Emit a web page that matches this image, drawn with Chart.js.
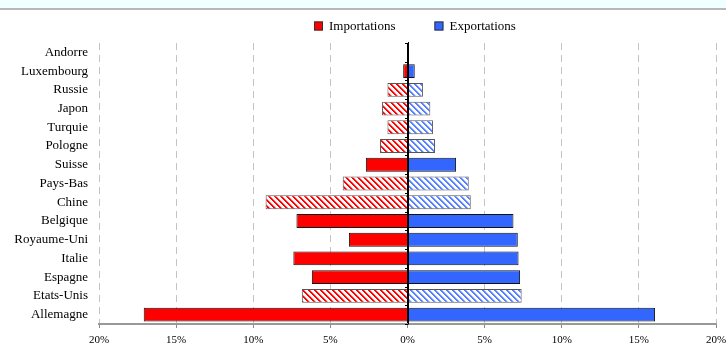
<!DOCTYPE html>
<html>
<head>
<meta charset="utf-8">
<script src="https://cdn.jsdelivr.net/npm/chart.js@4.4.1/dist/chart.umd.min.js"></script>
<style>
  html, body { margin: 0; padding: 0; background: #fff; }
  #wrap { position: relative; width: 726px; height: 345px; }
  #band { position: absolute; left: 0; top: 0; width: 726px; height: 8px; background: #f0ffff; border-bottom: 2px solid #b8b8b8; }
  #chart { position: absolute; left: 0; top: 0; }
</style>
</head>
<body>
<div id="wrap">
  <div id="band"></div>
  <canvas id="chart" width="726" height="345"></canvas>
</div>
<script>
// Countries, top to bottom
const countries = ['Andorre', 'Luxembourg', 'Russie', 'Japon', 'Turquie', 'Pologne', 'Suisse', 'Pays-Bas',
  'Chine', 'Belgique', 'Royaume-Uni', 'Italie', 'Espagne', 'Etats-Unis', 'Allemagne'];

// Shares in % (imports drawn to the left)
const importations = [-0.03, -0.28, -1.3, -1.65, -1.3, -1.78, -2.7, -4.2, -9.2, -7.2, -3.8, -7.4, -6.2, -6.85, -17.1];
const exportations = [0.1, 0.47, 1.0, 1.48, 1.65, 1.78, 3.15, 3.97, 4.1, 6.87, 7.15, 7.2, 7.3, 7.4, 16.05];

// Countries shown with hatched bars
const hatched = ['Russie', 'Japon', 'Turquie', 'Pologne', 'Pays-Bas', 'Chine', 'Etats-Unis'];

const xTicks = [-20, -15, -10, -5, 0, 5, 10, 15, 20];

const serif = "'Liberation Serif', 'Times New Roman', serif";
const RED = '#ff0000';
const BLUE = '#3366ff';

function makeHatch(color, soft) {
  const s = 6;
  const c = document.createElement('canvas');
  c.width = s; c.height = s;
  const g = c.getContext('2d');
  g.fillStyle = '#fff';
  g.fillRect(0, 0, s, s);
  for (let y = 0; y < s; y++) {
    for (let x = 0; x < s; x++) {
      const d = (((x - y) % s) + s) % s;
      if (d < 2) { g.fillStyle = color; g.fillRect(x, y, 1, 1); }
      else if (d === 2) { g.fillStyle = soft; g.fillRect(x, y, 1, 1); }
    }
  }
  return g.createPattern(c, 'repeat');
}

const redHatch = makeHatch(RED, '#ff9090');
const blueHatch = makeHatch('#5580ff', '#b0c4ff');

const fills = (solid, hatch) => countries.map(c => hatched.includes(c) ? hatch : solid);
const borders = countries.map(c => hatched.includes(c) ? '#555' : '#111');

// zero line tick marks + legend
const extras = {
  id: 'extras',
  afterDatasetsDraw(chart) {
    const { ctx, chartArea, scales } = chart;
    const x0 = Math.round(scales.x.getPixelForValue(0));
    const band = (chartArea.bottom - chartArea.top) / countries.length;
    ctx.save();
    ctx.strokeStyle = '#000';
    ctx.lineWidth = 1;
    ctx.beginPath();
    ctx.moveTo(x0 + 0.5, chartArea.top - 1);
    ctx.lineTo(x0 + 0.5, chartArea.bottom);
    for (let i = 0; i <= countries.length; i++) {
      const y = Math.round(chartArea.top + i * band) + 0.5;
      ctx.moveTo(x0 - 3, y);
      ctx.lineTo(x0 + 0.5, y);
    }
    ctx.stroke();
    ctx.restore();
  },
  afterDraw(chart) {
    const { ctx } = chart;
    ctx.save();
    ctx.font = '13px ' + serif;
    ctx.textBaseline = 'middle';
    const items = chart.data.datasets.map(d => ({ label: d.label, color: d.legendColor }));
    const box = 9, gap = 6, spacing = 39;
    const widths = items.map(it => box + gap + ctx.measureText(it.label).width);
    const total = widths.reduce((a, b) => a + b, 0) + spacing * (items.length - 1);
    let x = Math.round(414.5 - total / 2);
    const y = 26;
    items.forEach((it, i) => {
      ctx.fillStyle = it.color;
      ctx.fillRect(x, y - box / 2, box, box);
      ctx.strokeStyle = '#333';
      ctx.lineWidth = 1;
      ctx.strokeRect(x + 0.5, y - box / 2 + 0.5, box - 1, box - 1);
      ctx.fillStyle = '#000';
      ctx.fillText(it.label, x + box + gap, y + 1);
      x += widths[i] + spacing;
    });
    ctx.restore();
  }
};

new Chart(document.getElementById('chart'), {
  type: 'bar',
  data: {
    labels: countries,
    datasets: [
      {
        label: 'Importations',
        data: importations,
        backgroundColor: fills(RED, redHatch),
        legendColor: RED,
        borderColor: borders,
        borderWidth: 1,
        barPercentage: 0.74,
        categoryPercentage: 1
      },
      {
        label: 'Exportations',
        data: exportations,
        backgroundColor: fills(BLUE, blueHatch),
        legendColor: BLUE,
        borderColor: borders,
        borderWidth: 1,
        barPercentage: 0.74,
        categoryPercentage: 1
      }
    ]
  },
  options: {
    indexAxis: 'y',
    responsive: false,
    animation: false,
    layout: { padding: { top: 43, right: 0, left: 0, bottom: 0 } },
    plugins: {
      legend: { display: false },
      tooltip: { enabled: false }
    },
    scales: {
      x: {
        stacked: true,
        min: -20,
        max: 20,
        afterBuildTicks: scale => { scale.ticks = xTicks.map(v => ({ value: v })); },
        grid: {
          color: ctx => (ctx.tick && ctx.tick.value === 0) ? '#000' : '#c4c4c4',
          tickColor: '#888',
          tickLength: 4,
          lineWidth: 1
        },
        border: {
          display: true,
          color: '#999',
          width: 2,
          dash: ctx => (ctx.tick && ctx.tick.value === 0) ? [] : [7, 5]
        },
        ticks: {
          padding: 7,
          color: '#000',
          font: { family: serif, size: 11, lineHeight: 1 },
          callback: v => Math.abs(v) + '%'
        },
        afterFit: scale => {
          scale.height = 21;
          scale.paddingRight = 10;
          scale.paddingLeft = 0;
        }
      },
      y: {
        stacked: true,
        grid: { display: false, drawTicks: false },
        border: { display: false },
        ticks: {
          padding: 11,
          color: '#000',
          font: { family: serif, size: 13 }
        },
        afterFit: scale => { scale.width = 99; }
      }
    }
  },
  plugins: [extras]
});
</script>
</body>
</html>
